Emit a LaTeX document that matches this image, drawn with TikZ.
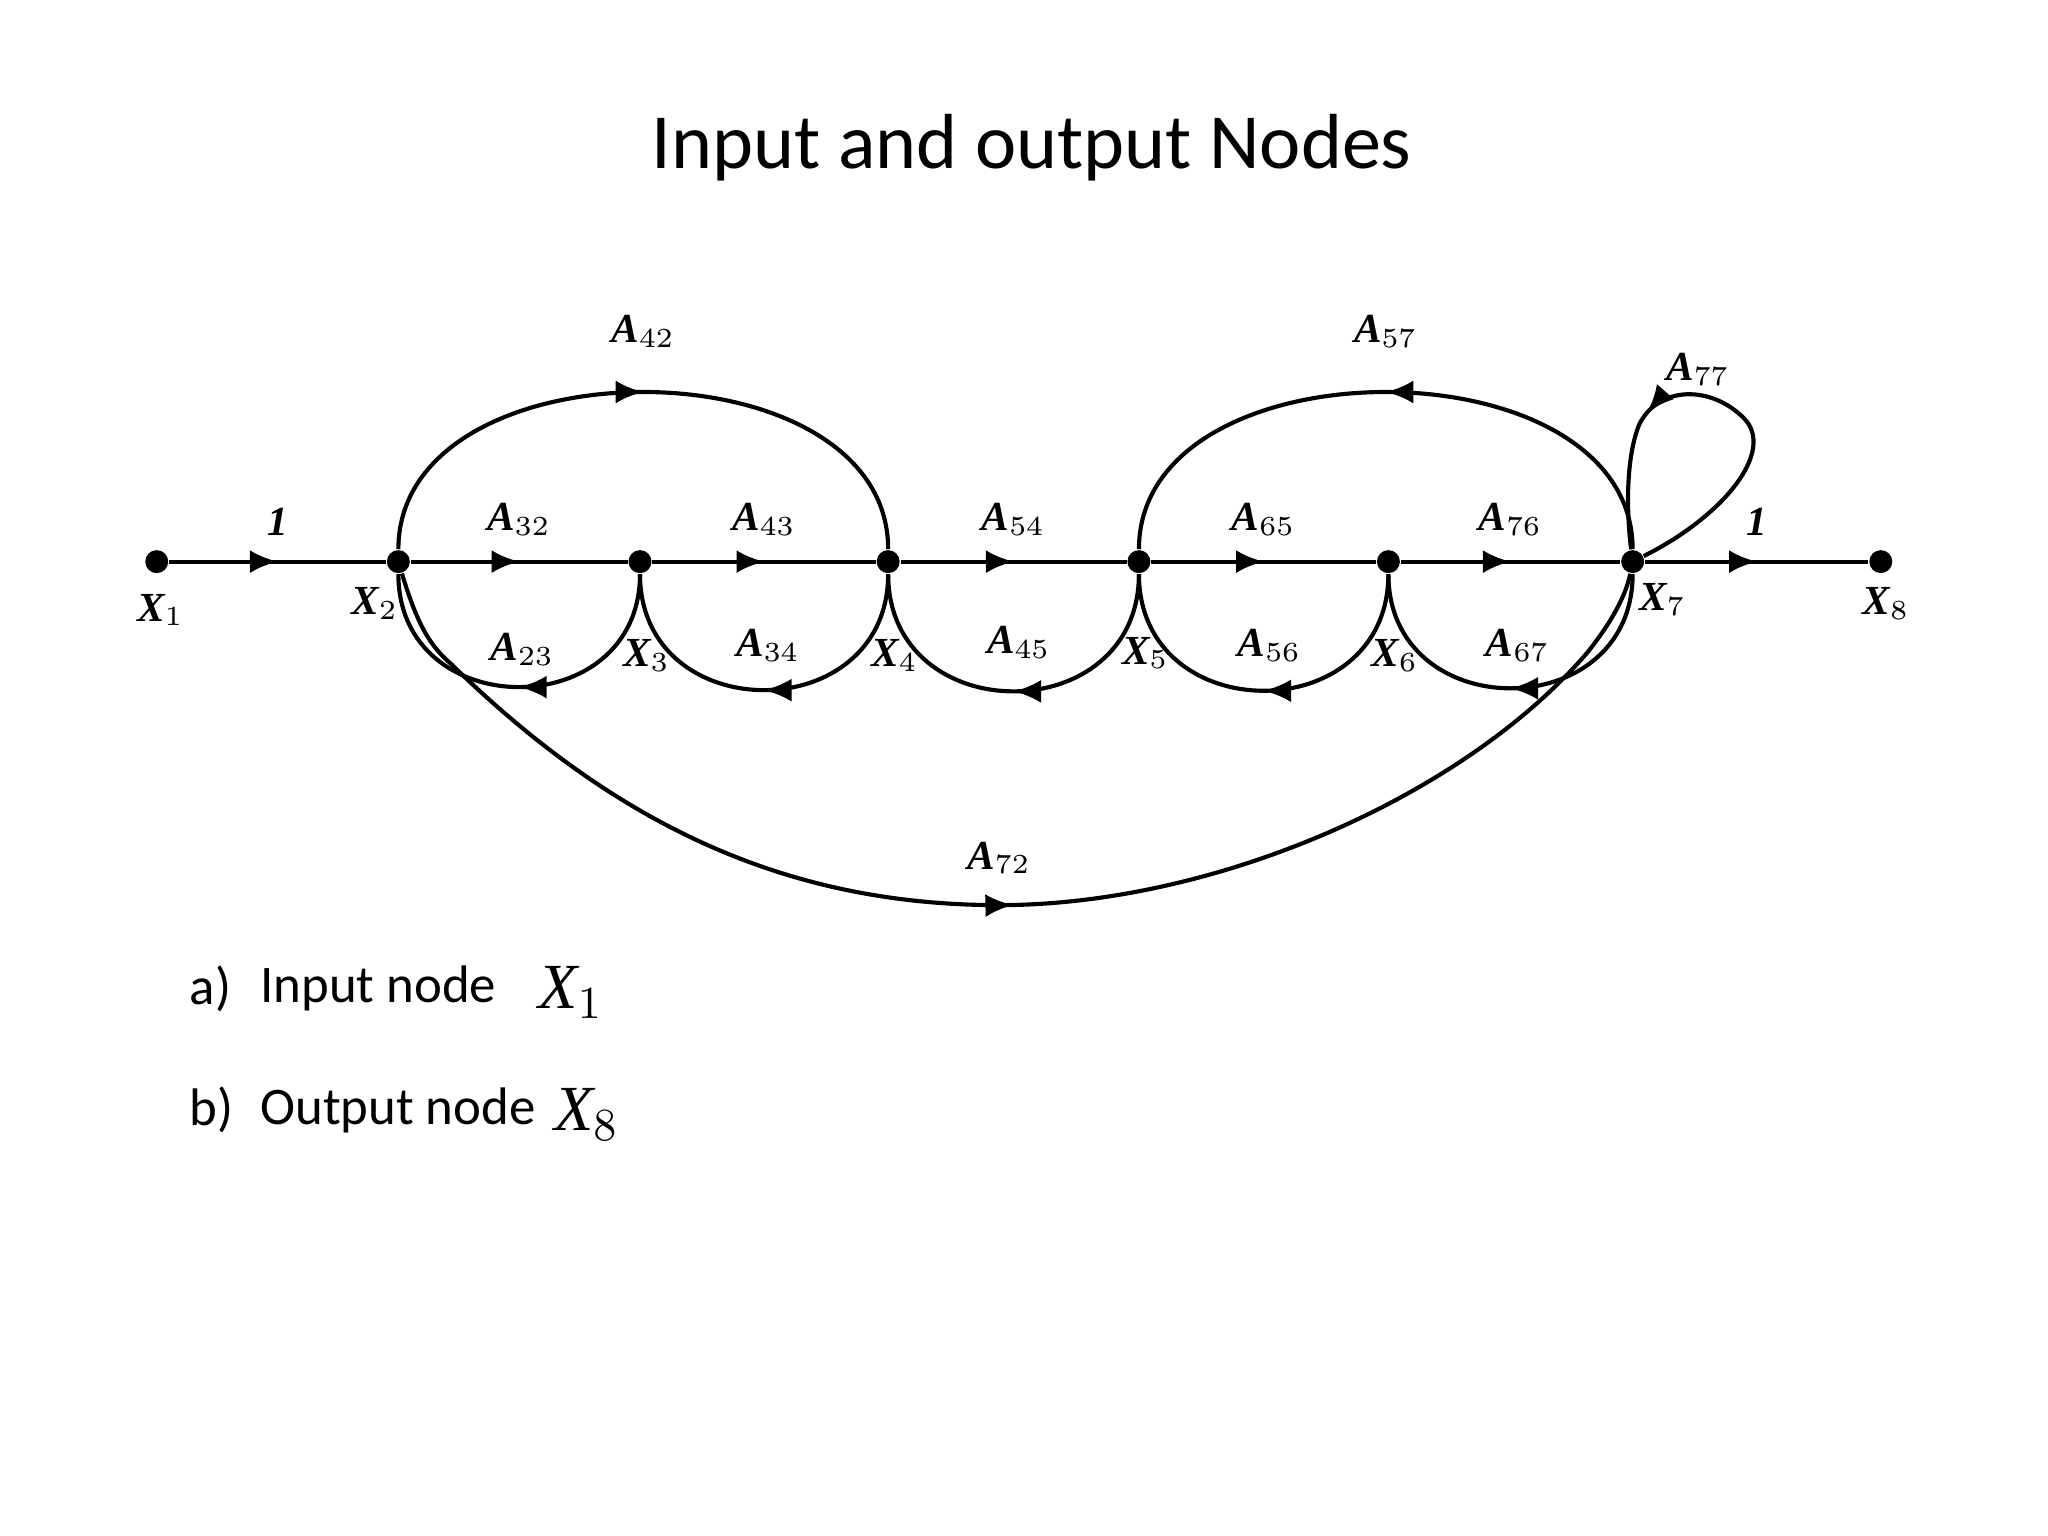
\documentclass[tikz,border=0pt]{standalone}
\usepackage{fontspec}
\setmainfont{Carlito}
\newfontfamily\lblfont{Liberation Serif}
\usetikzlibrary{decorations.markings,arrows.meta}
\begin{document}
\begin{tikzpicture}[x=0.01cm,y=-0.01cm,
  br/.style={line width=0.9pt,postaction={decorate},decoration={markings,
    mark=at position #1 with {\arrow{Latex[length=6pt,width=5pt]}}}},
  br/.default=0.5,
  pt/.style={circle,fill,inner sep=0pt,minimum size=5pt},
  gl/.style={font=\lblfont\bfseries\itshape\fontsize{9}{10}\selectfont},
  nl/.style={font=\lblfont\bfseries\itshape\fontsize{9}{10}\selectfont},
  txt/.style={anchor=west,font=\fontsize{11.5}{14}\selectfont}]
\useasboundingbox (0,0) rectangle (1568,1176);
\node[font=\fontsize{17}{20}\selectfont] (title) at (790,113) {Input and output Nodes};
% nodes
\foreach \n/\x in {1/120,2/305,3/490,4/680,5/872,6/1063,7/1250,8/1440}
  \node[pt] (x\n) at (\x,430) {};
\node[nl] (l1) at (123,467) {X$_1$};
\node[nl] (l2) at (287,462) {X$_2$};
\node[nl] (l3) at (495,502) {X$_3$};
\node[nl] (l4) at (685,502) {X$_4$};
\node[nl] (l5) at (877,500) {X$_5$};
\node[nl] (l6) at (1068,502) {X$_6$};
\node[nl] (l7) at (1273,459) {X$_7$};
\node[nl] (l8) at (1444,462) {X$_8$};
% forward branches
\draw[br] (x1) -- node[gl,above=2pt] {1} (x2);
\draw[br] (x2) -- node[gl,above=2pt] {A$_{32}$} (x3);
\draw[br] (x3) -- node[gl,above=2pt] {A$_{43}$} (x4);
\draw[br] (x4) -- node[gl,above=2pt] {A$_{54}$} (x5);
\draw[br] (x5) -- node[gl,above=2pt] {A$_{65}$} (x6);
\draw[br] (x6) -- node[gl,above=2pt] {A$_{76}$} (x7);
\draw[br] (x7) -- node[gl,above=2pt] {1} (x8);
% backward lower arcs
\draw[br] (x3) to[out=-90,in=-90,looseness=1.6] (x2);
\draw[br] (x4) to[out=-90,in=-90,looseness=1.6] (x3);
\draw[br] (x5) to[out=-90,in=-90,looseness=1.6] (x4);
\draw[br] (x6) to[out=-90,in=-90,looseness=1.6] (x5);
\draw[br] (x7) to[out=-90,in=-90,looseness=1.6] (x6);
\node[gl] (a23) at (400,497) {A$_{23}$};
\node[gl] (a34) at (588,494) {A$_{34}$};
\node[gl] (a45) at (780,492) {A$_{45}$};
\node[gl] (a56) at (972,494) {A$_{56}$};
\node[gl] (a67) at (1162,494) {A$_{67}$};
% upper loops
\draw[br] (x2) .. controls (305,260) and (680,260) .. node[gl,above=6pt] {A$_{42}$} (x4);
\draw[br] (x7) .. controls (1250,260) and (872,260) .. node[gl,above=6pt] {A$_{57}$} (x5);
\draw[br=0.68] (x7) .. controls (1320,395) and (1360,345) .. (1335,320)
  .. controls (1310,295) and (1270,295) .. (1255,325)
  .. controls (1245,350) and (1245,390) .. (x7);
\node[gl] (a77) at (1300,283) {A$_{77}$};
% long lower branch
\draw[br] (x2) .. controls (320,480) and (330,495) .. (345,508)
  .. controls (470,630) and (600,693) .. (765,693)
  node[gl,above=3pt] {A$_{72}$}
  .. controls (930,693) and (1120,610) .. (1215,500)
  .. controls (1235,475) and (1245,455) .. (x7);
% text
\node[txt] (ka) at (133,757) {a)};
\node[txt] (ta) at (187,757) {Input node};
\node[font=\lblfont\itshape\fontsize{14}{16}\selectfont] (va) at (437,760) {X$_1$};
\node[txt] (kb) at (133,850) {b)};
\node[txt] (tb) at (187,850) {Output node};
\node[font=\lblfont\itshape\fontsize{14}{16}\selectfont] (vb) at (449,853) {X$_8$};
\end{tikzpicture}
\end{document}
